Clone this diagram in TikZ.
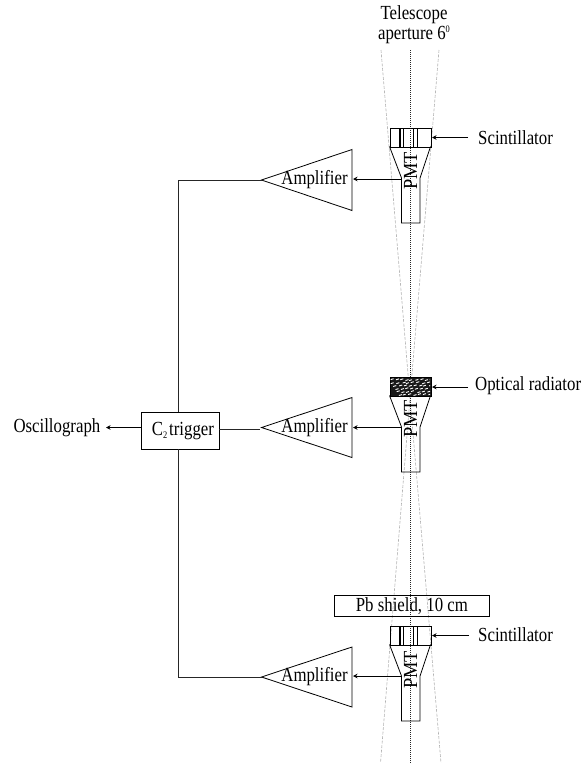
\documentclass[tikz,border=0pt]{standalone}
\usepackage{fontspec}
\setmainfont[FakeStretch=0.84]{Liberation Serif}
\newfontfamily\pmtfont[FakeStretch=0.92]{Liberation Serif}
\usetikzlibrary{arrows.meta}
\tikzset{
  x=1pt,y=-1pt,
  wire/.style={draw=black!85,line width=0.8pt},
  sig/.style={draw=black,line width=0.8pt,-{Stealth[length=4.5pt,width=4.5pt]}},
  shape line/.style={draw=black,line width=0.8pt},
  cone/.style={draw=black!30,line width=0.6pt,dash pattern=on 3pt off 1.5pt},
  axis/.style={draw=black!85,line width=0.7pt,dash pattern=on 1pt off 1pt},
  lab/.style={font=\fontsize{20}{20}\selectfont,inner sep=0pt},
  pmtlab/.style={font=\fontsize{20}{20}\pmtfont,inner sep=0pt,rotate=90},
  boxn/.style={draw=black,line width=0.8pt,inner sep=0pt,font=\fontsize{20}{20}\selectfont},
}
\newcommand{\pmtbody}[2]{% #1 top of crystal, #2 name
  \coordinate (#2ml) at (389.5,#1+18.5);
  \coordinate (#2mr) at (430.5,#1+18.5);
  \coordinate (#2nl) at (401.5,#1+50);
  \coordinate (#2nr) at (420,#1+50);
  \coordinate (#2bl) at (401.5,#1+95);
  \coordinate (#2br) at (420,#1+95);
  \draw[shape line] (#2ml) -- (#2nl) -- (#2bl) -- (#2br) -- (#2nr) -- (#2mr);
}
\newcommand{\ampl}[3]{% #1 name, #2 centre y, #3 half height
  \coordinate (#1tip) at (261.5,#2);
  \coordinate (#1up) at (352,#2-#3);
  \coordinate (#1dn) at (352,#2+#3);
  \draw[shape line] (#1tip) -- (#1up) -- (#1dn) -- cycle;
  \node[lab] (#1lab) at (314.5,#2) {Amplifier};
}
\newcommand{\scint}[2]{% #1 top, #2 name
  \node[draw=black,line width=0.9pt,minimum width=41pt,minimum height=18.5pt,inner sep=0pt,anchor=north west] (#2box) at (389.5,#1) {};
  \foreach \xx/\ww in {390.5/1.3,400/1.3,403.5/1.3,413.5/1.5,417/0.7}
    \draw[line width=\ww pt] (\xx,#1) -- (\xx,#1+18.5);
}
\begin{document}
\begin{tikzpicture}
\useasboundingbox (0,0) rectangle (584,763);
% cones and axis
\coordinate (cross) at (410,398);
\coordinate (ctl) at (381,50);
\coordinate (ctr) at (439,50);
\coordinate (cbl) at (380.5,763);
\coordinate (cbr) at (441,763);
\coordinate (axt) at (410,50);
\coordinate (axb) at (410,763);
\draw[cone] (ctl) -- (cross) -- (cbr);
\draw[cone] (ctr) -- (cross) -- (cbl);
\draw[axis] (axt) -- (axb);
% PMT bodies
\pmtbody{128}{a}
\pmtbody{377}{b}
\pmtbody{626}{c}
\scint{128}{a}
\scint{626}{c}
% radiator
\node[draw=black,fill=black!90,line width=0.8pt,minimum width=41pt,minimum height=18.5pt,inner sep=0pt,anchor=north west] (bbox) at (389.5,377) {};
\begin{scope}
\clip (390,377.5) rectangle (430,395);
\pgfmathsetseed{4711}
\foreach \row in {0,...,5}{
  \foreach \col in {0,...,8}{
    \pgfmathsetmacro{\px}{389+\col*5+\row*1.7+rnd*2}
    \pgfmathsetmacro{\py}{379.5+\row*3+rnd*1.2}
    \draw[white,line width=0.9pt] (\px,\py) -- ++(3,-0.9);
  }
}
\end{scope}
% PMT labels
\node[pmtlab] (pa) at (410.5,171) {PMT};
\node[pmtlab] (pb) at (410.5,419) {PMT};
\node[pmtlab] (pc) at (410.5,670) {PMT};
% amplifiers
\ampl{ua}{180}{30.5}
\ampl{ma}{427.5}{30}
\ampl{la}{677}{30}
% trigger
\node[boxn,minimum width=78pt,minimum height=37pt,anchor=north west] (trig) at (141,412) {\raisebox{-1.5pt}{\hspace*{5pt}C\raisebox{-3pt}{\fontsize{10}{10}\selectfont 2}\hspace{2pt}trigger}};
% shield
\node[boxn,minimum width=155pt,minimum height=20.5pt,anchor=north west] (pb shield) at (334,595) {Pb shield, 10 cm};
% text
\node[lab,align=center] (tel) at (414,24.5) {Telescope\\aperture 6\raisebox{7pt}{\fontsize{10}{10}\selectfont 0}};
\node[lab,anchor=west] (s1) at (478,137.5) {Scintillator};
\node[lab,anchor=west] (or) at (475,386) {Optical radiator};
\node[lab,anchor=west] (s2) at (478,635) {Scintillator};
\node[lab,anchor=east] (osc) at (100.5,427.5) {Oscillograph};
% signal arrows
\coordinate (aout) at (401.5,179);
\coordinate (bout) at (401.5,427.5);
\coordinate (cout) at (401.5,676);
\coordinate (uain) at (353,179);
\coordinate (main) at (353,427.5);
\coordinate (lain) at (353,676);
\draw[sig] (aout) -- (uain);
\draw[sig] (bout) -- (main);
\draw[sig] (cout) -- (lain);
\coordinate (s1end) at (468,137.5);
\coordinate (orend) at (468,387);
\coordinate (s2end) at (469,635.5);
\draw[sig] (s1end) -- (432,137.5);
\draw[sig] (orend) -- (432,387);
\draw[sig] (s2end) -- (432,635.5);
% wires
\coordinate (trigtop) at (178,412);
\coordinate (trigbot) at (178,449);
\draw[wire] (uatip) -- (178,180) -- (trigtop);
\draw[wire] (trigbot) -- (178,677) -- (latip);
\coordinate (trigr) at (219,429.5);
\draw[wire] (trigr) -- (260,429.5);
\coordinate (trigl) at (141,427.5);
\coordinate (oscr) at (106,427.5);
\draw[sig] (trigl) -- (oscr);
\end{tikzpicture}
\end{document}
